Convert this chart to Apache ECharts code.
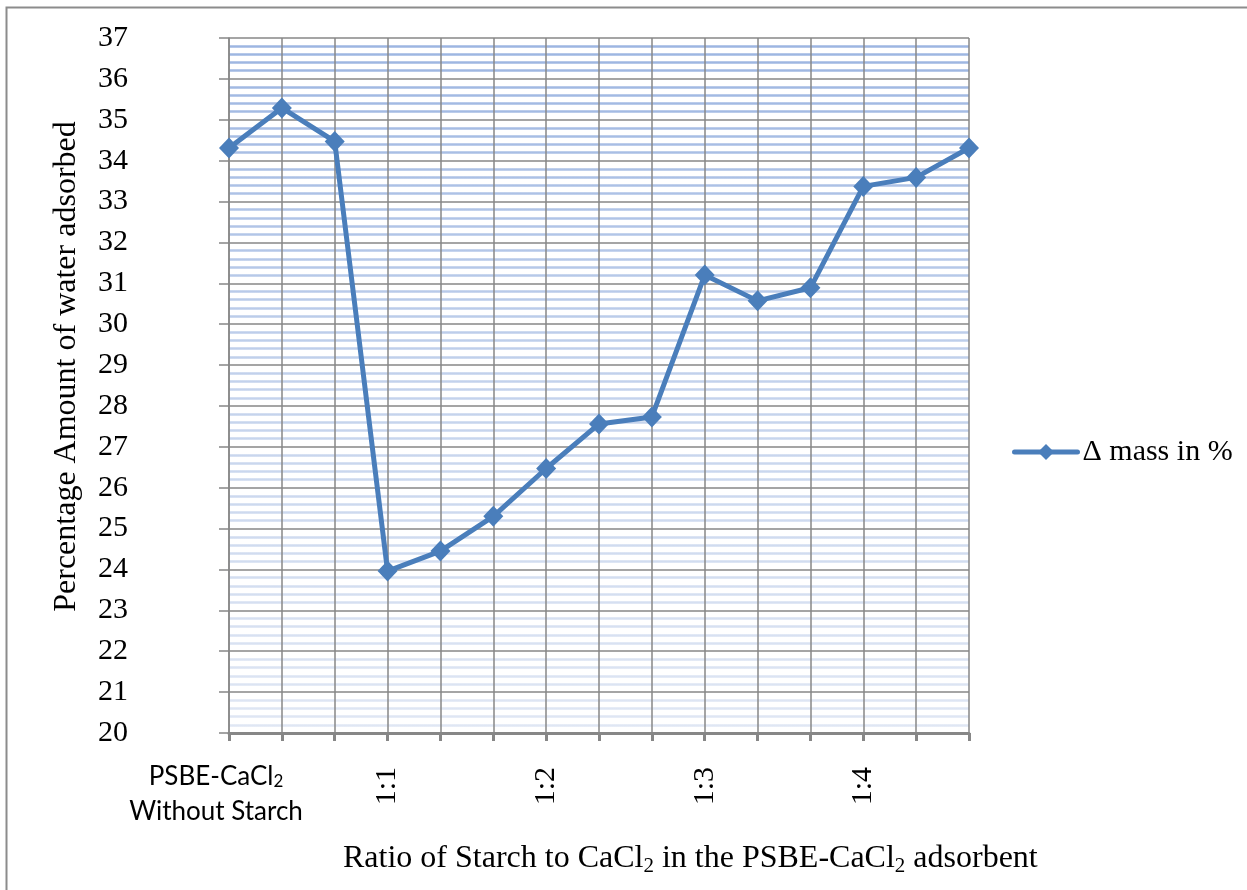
<!DOCTYPE html>
<html>
<head>
<meta charset="utf-8">
<script src="https://cdn.jsdelivr.net/npm/echarts@6/dist/echarts.min.js"></script>
<style>
  html, body { margin: 0; padding: 0; background: #ffffff; }
  #chart { width: 1247px; height: 890px; }
</style>
</head>
<body>
<div id="chart"></div>
<script>
// Ratio categories along the x axis (blank entries are unlabelled intermediate samples)
const categories = ['PSBE-CaCl2 Without Starch', '', '', '1:1', '', '', '1:2', '', '', '1:3', '', '', '1:4', '', ''];
// Δ mass in % for each sample
const massChange = [34.31, 35.29, 34.47, 23.96, 24.45, 25.30, 26.47, 27.56, 27.73, 31.20, 30.57, 30.89, 33.37, 33.59, 34.31];
// Value axis range
const yMin = 20;
const yMax = 37;
const yStep = 1;

const seriesName = 'Δ mass in %';
const serif = 'Liberation Serif';
const sans = 'Lato';
const grey = '#878787';
const blue = '#4a7ebb';

const chart = echarts.init(document.getElementById('chart'));

// Minor grid lines fade from a stronger blue at the top to a pale blue at the bottom
const minorGradient = new echarts.graphic.LinearGradient(0, 38, 0, 733, [
  { offset: 0, color: '#9cb5e1' },
  { offset: 0.5, color: '#c3d2ec' },
  { offset: 1, color: '#e0e7f4' }
], true);

chart.setOption({
  backgroundColor: '#ffffff',
  animation: false,
  title: {
    text: '{t|Ratio of Starch to CaCl}{s|2}{t| in the PSBE-CaCl}{s|2}{t| adsorbent}',
    left: 338,
    top: 835,
    textStyle: {
      fontWeight: 'normal',
      rich: {
        t: { fontFamily: serif, fontSize: 32, fontWeight: 'normal', color: '#000', lineHeight: 38 },
        s: { fontFamily: serif, fontSize: 21, fontWeight: 'normal', color: '#000', lineHeight: 38, padding: [15, 0, 0, 0] }
      }
    }
  },
  legend: {
    data: [seriesName],
    left: 1007,
    top: 432,
    itemWidth: 63,
    itemHeight: 20,
    itemGap: 4,
    lineStyle: { width: 5, cap: 'round' },
    textStyle: { fontFamily: serif, fontSize: 30, color: '#000' }
  },
  grid: { left: 229, right: 278, top: 38, bottom: 157, containLabel: false },
  xAxis: [
    {
      type: 'category',
      data: categories,
      boundaryGap: false,
      axisLine: { lineStyle: { color: grey, width: 3 } },
      axisTick: { alignWithLabel: true, length: 8, lineStyle: { color: grey, width: 3 }, interval: 0 },
      splitLine: { show: true, interval: 0, lineStyle: { color: grey, width: 1.5 } },
      axisLabel: {
        interval: 0,
        rotate: 90,
        margin: 34,
        padding: [10, 0, 0, 0],
        fontFamily: serif,
        fontSize: 30,
        color: '#000',
        formatter: (v, i) => (i === 0 ? '' : v)
      }
    },
    {
      type: 'category',
      data: categories,
      boundaryGap: false,
      position: 'bottom',
      axisLine: { show: false },
      axisTick: { show: false },
      splitLine: { show: false },
      axisLabel: {
        interval: 0,
        rotate: 0,
        margin: 26,
        padding: [0, 26, 0, 0],
        formatter: (v, i) => (i === 0 ? '{a|PSBE-CaCl}{s|2}\n{a|Without Starch}' : ''),
        rich: {
          a: { fontFamily: sans, fontSize: 26, color: '#000', lineHeight: 35 },
          s: { fontFamily: sans, fontSize: 17, color: '#000', lineHeight: 35, padding: [10, 0, 0, 0] }
        }
      }
    }
  ],
  yAxis: {
    type: 'value',
    min: yMin,
    max: yMax,
    interval: yStep,
    name: 'Percentage Amount of water adsorbed',
    nameLocation: 'middle',
    nameGap: 146,
    nameTextStyle: { fontFamily: serif, fontSize: 32, color: '#000', padding: [0, 0, 0, 38] },
    axisLine: { show: true, lineStyle: { color: grey, width: 1.5 } },
    axisTick: { show: true, length: 10, lineStyle: { color: grey, width: 1.5 } },
    axisLabel: { margin: 101, fontFamily: serif, fontSize: 30, color: '#000' },
    splitLine: { show: true, lineStyle: { color: grey, width: 1.5 } },
    minorTick: { show: false, splitNumber: 5 },
    minorSplitLine: { show: true, lineStyle: { color: minorGradient, width: 2.5 } }
  },
  series: [
    {
      name: seriesName,
      type: 'line',
      data: massChange,
      symbol: 'diamond',
      symbolSize: [20, 21],
      lineStyle: { color: blue, width: 5 },
      itemStyle: { color: blue },
      z: 5
    }
  ],
  graphic: [
    {
      type: 'rect',
      silent: true,
      shape: { x: 6.5, y: 7.5, width: 1260, height: 900 },
      style: { fill: null, stroke: '#8c8c8c', lineWidth: 2 }
    }
  ]
});
</script>
</body>
</html>
